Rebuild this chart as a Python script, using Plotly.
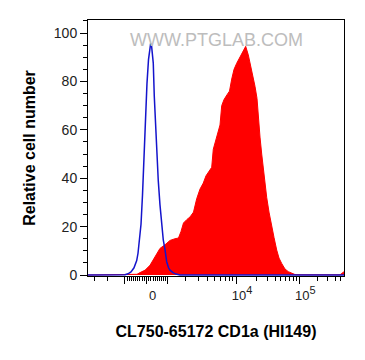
import plotly.graph_objects as go

# ---------------- data (x positions are display positions on the biexponential axis,
# in decades from zero; y = relative cell number) ----------------
control_pos = [-0.993, -0.450, -0.365, -0.314, -0.263, -0.212, -0.166, -0.144, -0.119,
               -0.093, -0.068, -0.042, -0.017, 0.008, 0.034, 0.059, 0.071, 0.085, 0.115,
               0.132, 0.158, 0.178, 0.200, 0.229, 0.258, 0.285, 0.314, 0.343, 0.374,
               0.399, 0.450, 0.501, 0.569, 3.353]
control_count = [0, 0, 0.1, 0.5, 1.3, 3, 6, 9, 14,
                 21, 33, 50, 64, 79, 89, 94.5, 95.7, 95, 87.6,
                 74, 60, 50, 39, 29, 19.5, 14.5, 10.5, 5.5, 3,
                 2, 1, 0.4, 0, 0]

stained_pos = [-0.993, -0.229, -0.161, -0.110, -0.025, 0.059, 0.144, 0.229, 0.314, 0.399,
               0.484, 0.543, 0.586, 0.628, 0.688, 0.739, 0.798, 0.852, 0.908, 0.964,
               1.010, 1.049, 1.107, 1.134, 1.180, 1.219, 1.248, 1.277, 1.316, 1.367,
               1.409, 1.447, 1.486, 1.531, 1.587, 1.643, 1.684, 1.728, 1.757, 1.786,
               1.817, 1.842, 1.876, 1.898, 1.927, 1.956, 1.995, 2.041, 2.080, 2.126,
               2.165, 2.211, 2.250, 2.295, 2.351, 2.407, 2.470, 2.521, 2.606, 3.285,
               3.336, 3.353]
stained_count = [0, 0, 0.3, 1, 2, 4, 7.5, 11, 12.5, 14.3,
                 15, 15.3, 18, 21.5, 23, 24, 26, 31.5, 35.5, 38,
                 41, 42.5, 44.5, 52, 56, 60, 62, 70, 72.5, 74.5,
                 76, 81, 85, 87.5, 90.2, 93, 94.5, 91, 88, 85,
                 81, 78, 73, 65, 57, 50, 41, 32, 26, 21,
                 15.5, 10.3, 7, 4.8, 2.5, 1.4, 0.6, 0.2, 0.1, 0.1,
                 1, 1.5]

major_values = [-1000, 0, 1000, 10000, 100000]
major_labels = ["", "0", "",
                "10<sup><span style='font-size:11px'>4</span></sup>",
                "10<sup><span style='font-size:11px'>5</span></sup>"]
minor_values = ([-m * 100 for m in range(1, 10)] + [m * 100 for m in range(1, 10)] +
                [-m * 1000 for m in range(2, 10)] + [m * 1000 for m in range(2, 10)] +
                [m * 10000 for m in range(2, 10)] + [m * 100000 for m in range(2, 10)])

y_ticks = [0, 20, 40, 60, 80, 100]

x_title = "CL750-65172 CD1a (HI149)"
y_title = "Relative cell number"
watermark = "WWW.PTGLAB.COM"

# ---------------- biexponential (logicle-like) axis transform ----------------
LOG_COEF = 249.0
LOG_P = 3.6


def to_display(v):
    s = 1.0 if v >= 0 else -1.0
    a = abs(float(v))
    lo, hi = 0.0, 8.0
    for _ in range(80):
        mid = 0.5 * (lo + hi)
        g = 10 ** mid - LOG_P ** 2 * 10 ** (-mid / LOG_P) + LOG_P ** 2 - 1
        if LOG_COEF * g < a:
            lo = mid
        else:
            hi = mid
    return s * 0.5 * (lo + hi)


fig = go.Figure()
fig.add_trace(go.Scatter(x=stained_pos, y=stained_count, mode="lines",
                         line=dict(color="#ff0000", width=1),
                         fill="tozeroy", fillcolor="#ff0000", hoverinfo="skip"))
fig.add_trace(go.Scatter(x=control_pos, y=control_count, mode="lines",
                         line=dict(color="#1414cc", width=1.5), hoverinfo="skip"))

fig.add_annotation(text=watermark, xref="paper", yref="paper", x=0.503, y=0.922,
                   xanchor="center", yanchor="middle", showarrow=False,
                   font=dict(family="Liberation Sans, Arial", size=18, color="#bdbdbd"))

# the page body adds an 8px offset, so the figure is sized to fit the window
fig.update_layout(
    width=357, height=352,
    margin=dict(l=80, r=21, t=12, b=84),
    plot_bgcolor="white", paper_bgcolor="white",
    showlegend=False,
    font=dict(family="Liberation Sans, Arial", color="#222"),
)
fig.update_xaxes(
    range=[-0.993, 3.353], showgrid=False, zeroline=False, automargin=False,
    showline=True, linecolor="black", linewidth=1, mirror=True,
    ticks="outside", ticklen=7, tickcolor="black", tickwidth=1,
    tickvals=[to_display(v) for v in major_values], ticktext=major_labels,
    tickfont=dict(size=13, color="#222"), ticklabelshift=6,
    minor=dict(tickvals=[to_display(v) for v in minor_values], ticks="outside",
               ticklen=4, tickcolor="black", tickwidth=1),
    title=dict(text=x_title, standoff=24,
               font=dict(size=16, color="black", weight=700)),
)
fig.update_yaxes(
    range=[-0.4, 105.4], showgrid=False, zeroline=False, automargin=False,
    showline=True, linecolor="black", linewidth=1, mirror=True,
    ticks="outside", ticklen=7, tickcolor="black", tickwidth=1,
    tickvals=y_ticks, tickfont=dict(size=14, color="#222"),
    minor=dict(dtick=5, ticks="outside", ticklen=4, tickcolor="black", tickwidth=1),
    title=dict(text=y_title, standoff=14,
               font=dict(size=16, color="black", weight=700)),
)

fig.write_html("out.html")
